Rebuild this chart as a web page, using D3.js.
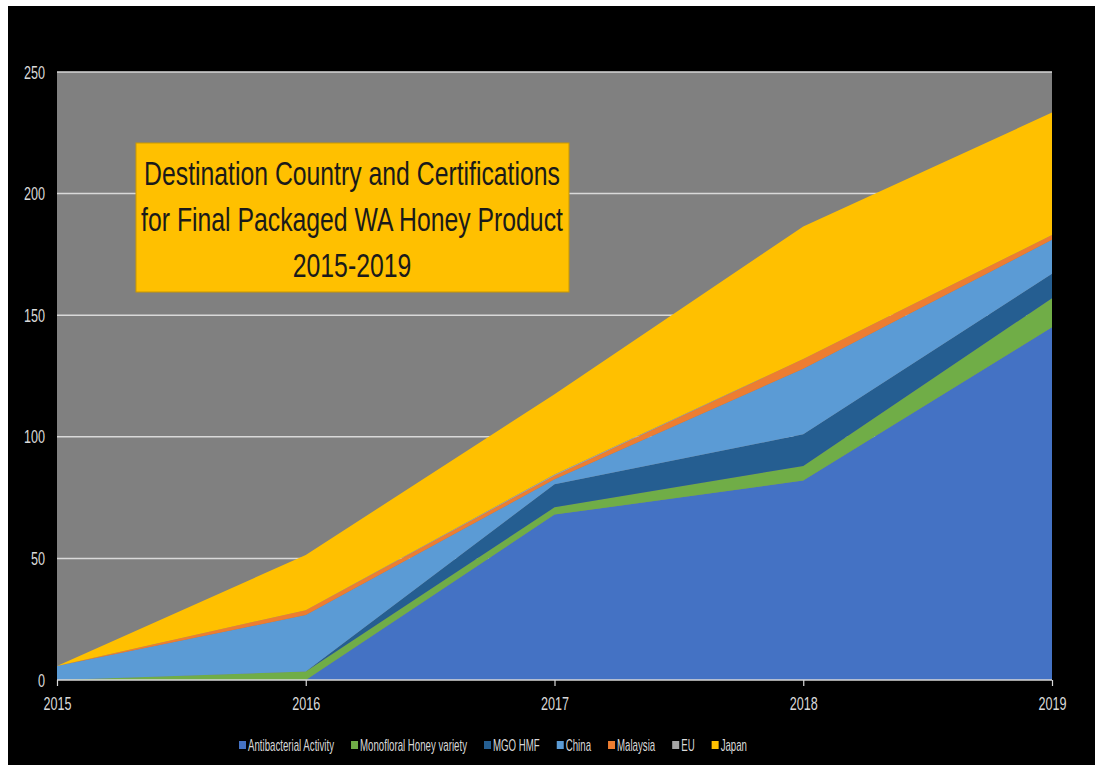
<!DOCTYPE html>
<html>
<head>
<meta charset="utf-8">
<script src="https://cdn.jsdelivr.net/npm/d3@7"></script>
<style>
  html, body { margin: 0; padding: 0; background: #ffffff; }
  svg { display: block; }
  text { font-family: "Liberation Sans", Arial, sans-serif; }
</style>
</head>
<body>
<svg id="chart" width="1095" height="771"></svg>
<script>
// Destination country and certification counts, stacked by year
const years = [2015, 2016, 2017, 2018, 2019];
const antibacterial = [0, 0, 68, 82, 145];
const monofloral = [0, 3.5, 3, 6, 12];
const mgoHmf = [0, 0, 9.5, 13, 10];
const china = [5.8, 23.2, 2, 27, 14];
const malaysia = [0, 2, 1.5, 4, 2];
const eu = [0, 0, 0.5, 0, 0];
const japan = [0, 22.7, 33, 54.5, 50.3];

const seriesNames = ["Antibacterial Activity", "Monofloral Honey variety", "MGO HMF", "China", "Malaysia", "EU", "Japan"];
const seriesValues = [antibacterial, monofloral, mgoHmf, china, malaysia, eu, japan];
const seriesColors = ["#4472C4", "#70AD47", "#255E91", "#5B9BD5", "#ED7D31", "#A5A5A5", "#FFC000"];
const yTicks = [0, 50, 100, 150, 200, 250];
const titleLines = ["Destination Country and Certifications", "for Final Packaged WA Honey Product", "2015-2019"];

const svg = d3.select("#chart");
const condensed = 0.7; // horizontal squeeze for the narrow label face

// outer frame
svg.append("rect").attr("x", 8).attr("y", 6).attr("width", 1087).attr("height", 759).attr("fill", "#000000");

const plot = { left: 57, right: 1052, top: 72, bottom: 680 };

const x = d3.scalePoint().domain(years).range([plot.left, plot.right]);
const y = d3.scaleLinear().domain([0, 250]).range([plot.bottom, plot.top]);

// plot background
svg.append("rect")
  .attr("x", plot.left).attr("y", plot.top)
  .attr("width", plot.right - plot.left).attr("height", plot.bottom - plot.top)
  .attr("fill", "#808080");

// gridlines
svg.append("g").selectAll("line").data(yTicks.filter(t => t > 0)).join("line")
  .attr("x1", plot.left).attr("x2", plot.right)
  .attr("y1", d => y(d)).attr("y2", d => y(d))
  .attr("stroke", "#d9d9d9").attr("stroke-width", 1.5);

// stacked areas
const rows = years.map((yr, i) => {
  const r = { year: yr };
  seriesNames.forEach((n, k) => { r[n] = seriesValues[k][i]; });
  return r;
});
const layers = d3.stack().keys(seriesNames)(rows);
const area = d3.area()
  .x(d => x(d.data.year))
  .y0(d => y(d[0]))
  .y1(d => y(d[1]));

svg.append("g").selectAll("path").data(layers).join("path")
  .attr("d", area)
  .attr("fill", (d, i) => seriesColors[i]);

// x axis
const gx = svg.append("g").attr("transform", `translate(0,${plot.bottom})`)
  .call(d3.axisBottom(x).tickSize(6).tickPadding(0));
gx.select(".domain").attr("stroke", "#d9d9d9").attr("stroke-width", 1.5)
  .attr("d", `M${plot.left},0H${plot.right}`);
gx.selectAll(".tick line").attr("stroke", "#d9d9d9").attr("stroke-width", 1.2);
gx.selectAll(".tick text")
  .attr("x", null).attr("y", null).attr("dy", null)
  .attr("transform", `translate(0,30) scale(${condensed},1)`)
  .attr("fill", "#d9d9d9").attr("font-size", 18);

// y axis labels
const gy = svg.append("g").attr("transform", `translate(${plot.left},0)`)
  .call(d3.axisLeft(y).tickValues(yTicks).tickSize(0).tickPadding(0));
gy.select(".domain").remove();
gy.selectAll(".tick text")
  .attr("x", null).attr("dy", null)
  .attr("transform", `translate(-12,6) scale(${condensed},1)`)
  .attr("fill", "#d9d9d9").attr("font-size", 18);

// title box
const box = svg.append("g");
box.append("rect")
  .attr("x", 136).attr("y", 143).attr("width", 433).attr("height", 149)
  .attr("fill", "#FFC000").attr("stroke", "#C99700").attr("stroke-width", 1);
const titleText = box.selectAll("text").data(titleLines).join("text")
  .attr("text-anchor", "middle")
  .attr("font-size", 33)
  .attr("fill", "#1a1a1a")
  .text(d => d);
const titleScale = 416 / titleText.nodes()[0].getComputedTextLength();
titleText.attr("transform", (d, i) => `translate(352,${185 + i * 46}) scale(${titleScale},1)`);

// legend
const legend = svg.append("g").attr("transform", "translate(0,745)");
const items = legend.selectAll("g").data(seriesNames).join("g");
items.append("rect").attr("width", 7).attr("height", 8).attr("y", -4)
  .attr("fill", (d, i) => seriesColors[i]);
const labels = items.append("text")
  .attr("font-size", 17).attr("fill", "#d9d9d9").text(d => d);
const widths = labels.nodes().map(n => n.getComputedTextLength());
const swatchGap = 9, itemGap = 17, legendLeft = 239, legendRight = 747;
const legendScale = (legendRight - legendLeft - seriesNames.length * swatchGap - (seriesNames.length - 1) * itemGap) / d3.sum(widths);
labels.attr("transform", `translate(${swatchGap},6) scale(${legendScale},1)`);
let offset = legendLeft;
items.attr("transform", (d, i) => {
  const t = `translate(${offset},0)`;
  offset += swatchGap + widths[i] * legendScale + itemGap;
  return t;
});
</script>
</body>
</html>
